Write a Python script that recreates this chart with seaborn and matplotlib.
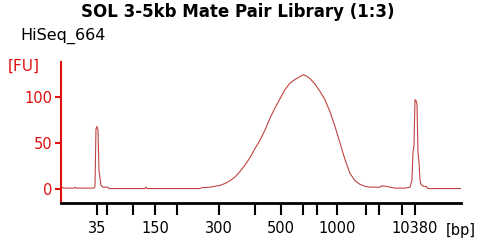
"""
Bioanalyzer trace: SOL 3-5kb Mate Pair Library (1:3)
"""

import pandas as pd
import matplotlib
matplotlib.use("Agg")
import matplotlib.pyplot as plt
import seaborn as sns

# migration time (s) and fluorescence (FU)
time_s = [19, 19.5, 19.75, 22.25, 22.5, 22.75, 27.25, 27.5, 27.75, 28, 28.25,
          28.5, 28.75, 29, 29.5, 30.75, 31, 40, 40.25, 40.5, 53.75, 54.25,
          56.25, 57.5, 58.75, 60, 61.25, 62.5, 63.75, 65, 66.25, 67.5, 68.75,
          70, 71.25, 72.5, 73.75, 75, 76.25, 77.5, 78.75, 79.5, 80.25, 81.25,
          82.5, 83.75, 85, 86.25, 87.5, 88.75, 90, 91.25, 92.5, 93.75, 95,
          96.25, 98.75, 99.25, 100.25, 101.25, 102.5, 105, 106.25, 106.75,
          107, 107.25, 107.5, 107.75, 108, 108.25, 108.5, 108.75, 109, 109.5,
          110, 110.25, 110.75, 119]
fu = [1, 1.5, 1, 1, 1.8, 1, 1, 3, 65, 68, 64,
      20, 12, 4, 2, 2, 0.5, 0.5, 2, 0.5, 0.5, 1.5,
      2, 3, 4, 6, 9, 13, 19, 26, 34, 44, 53,
      64, 77, 88, 98, 108, 115, 119, 122, 124, 123, 120,
      114, 106, 97, 84, 68, 50, 32, 17, 9, 5, 3,
      2, 2, 3.5, 3, 2, 1, 1, 2, 10,
      40, 47, 97, 96, 92, 40, 30, 10, 5, 3,
      2.5, 3, 0.5, 0.5]

# ladder peaks (bp) and where they sit on the time axis
ladder_bp = [35, 50, 100, 150, 200, 300, 400, 500, 600, 700, 1000, 2000,
             3000, 7000, 10380]
ladder_time = [28, 30.5, 37, 42.5, 48, 58.5, 67.5, 74, 79.5, 83, 88, 95.25,
               98.5, 104.25, 107.5]
labelled_bp = [35, 150, 300, 500, 1000, 10380]

fu_ticks = [0, 50, 100]

df = pd.DataFrame({"time": time_s, "fu": fu})

sns.set_theme(style="ticks")
plt.rcParams["font.family"] = ["DejaVu Sans"]
plt.rcParams["text.color"] = "black"
plt.rcParams["xtick.color"] = "black"

red = "#e01010"
trace = "#c04444"

fig = plt.figure(figsize=(4.79, 2.44), dpi=100)
ax = fig.add_axes([0.1273, 0.168, 0.8351, 0.578])

sns.lineplot(data=df, x="time", y="fu", ax=ax, color=trace, linewidth=0.8)

ax.set_xlim(19, 119)
ax.set_ylim(-15.2, 138)

ax.set_xticks(ladder_time)
ax.set_xticklabels([str(b) if b in labelled_bp else "" for b in ladder_bp],
                   fontsize=10.5, color="black")
ax.set_yticks(fu_ticks)
ax.set_yticklabels([str(v) for v in fu_ticks], fontsize=10.5, color=red)

ax.tick_params(axis="x", length=8.6, width=1.5, color="black", pad=4.5)
ax.tick_params(axis="y", length=4, width=1.5, color=red, pad=2)

ax.set_xlabel("")
ax.set_ylabel("")

sns.despine(ax=ax, top=True, right=True)
ax.spines["left"].set_color(red)
ax.spines["left"].set_linewidth(1.5)
ax.spines["bottom"].set_color("black")
ax.spines["bottom"].set_linewidth(2)

fig.text(0.497, 0.951, "SOL 3-5kb Mate Pair Library (1:3)", ha="center",
         va="center", fontsize=12, fontweight="bold", color="black")
fig.text(0.042, 0.852, "HiSeq_664", ha="left", va="center", fontsize=11.5,
         color="black")
fig.text(0.016, 0.73, "[FU]", ha="left", va="center", fontsize=11,
         color=red)
fig.text(0.931, 0.057, "[bp]", ha="left", va="center", fontsize=10.5,
         color="black")

fig.savefig("out.png", dpi=100)
plt.close(fig)
